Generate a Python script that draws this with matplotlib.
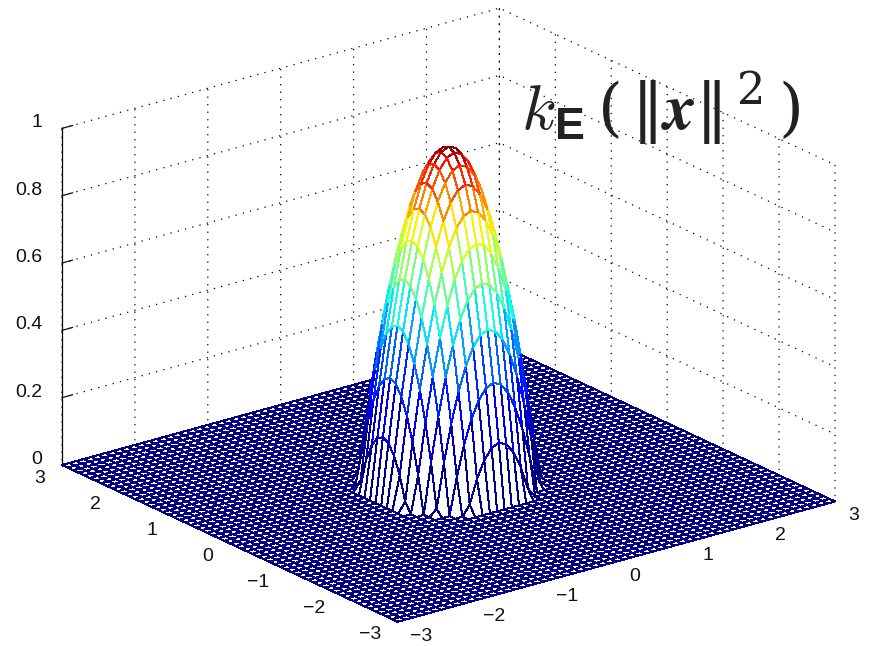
import numpy as np
import matplotlib
matplotlib.use('Agg')
import matplotlib.pyplot as plt
from mpl_toolkits.mplot3d import proj3d

# heights read from the dome, by grid offset from the centre (0.1 steps, one quadrant)
dome_quadrant = [
    [1.00, .99, .96, .91, .84, .75, .64, .51, .36, .19, 0],
    [ .99, .98, .95, .90, .83, .74, .63, .50, .35, .18, 0],
    [ .96, .95, .92, .87, .80, .71, .60, .47, .32, .15, 0],
    [ .91, .90, .87, .82, .75, .66, .55, .42, .27, .10, 0],
    [ .84, .83, .80, .75, .68, .59, .48, .35, .20, .03, 0],
    [ .75, .74, .71, .66, .59, .50, .39, .26, .11, 0, 0],
    [ .64, .63, .60, .55, .48, .39, .28, .15, 0, 0, 0],
    [ .51, .50, .47, .42, .35, .26, .15, .02, 0, 0, 0],
    [ .36, .35, .32, .27, .20, .11, 0, 0, 0, 0, 0],
    [ .19, .18, .15, .10, .03, 0, 0, 0, 0, 0, 0],
    [0, 0, 0, 0, 0, 0, 0, 0, 0, 0, 0],
]
grid_axis = np.arange(-30, 31) / 10
xy_ticks = [-3, -2, -1, 0, 1, 2, 3]
z_ticks = [0, 0.2, 0.4, 0.6, 0.8, 1]
z_ticklabels = ['0', '0.2', '0.4', '0.6', '0.8', '1']
title = r'$k_{\mathbf{E}}\,(\,\|\boldsymbol{x}\|^{\,2}\,)$'

plt.rcParams['font.family'] = ['Liberation Sans', 'DejaVu Sans']
plt.rcParams['mathtext.fontset'] = 'custom'
plt.rcParams['mathtext.rm'] = 'DejaVu Serif'
plt.rcParams['mathtext.it'] = 'cmmi10'
plt.rcParams['mathtext.bf'] = 'Liberation Sans:bold'
plt.rcParams['mathtext.bfit'] = 'STIXGeneral:italic:bold'
plt.rcParams['mathtext.fallback'] = 'cm'

Q = np.array(dome_quadrant)
Z = np.zeros((61, 61))
off = np.abs(np.arange(-30, 31))
for i, a in enumerate(off):
    for j, b in enumerate(off):
        if a <= 10 and b <= 10:
            Z[i, j] = Q[a, b]
X, Y = np.meshgrid(grid_axis, grid_axis)

W, H = 869, 646
fig = plt.figure(figsize=(W / 100, H / 100), dpi=100, facecolor='white')
ax = fig.add_axes([0, 0, 1, 1], projection='3d', facecolor='white')
ax.set_proj_type('ortho')
ax.view_init(elev=21, azim=-127.5)
ax.set_box_aspect((1, 1, 0.654), zoom=1.0)

surf = ax.plot_surface(X, Y, Z, rstride=1, cstride=1, color='white', shade=False,
                       linewidth=0.72, antialiased=False)
cm = plt.get_cmap('jet', 64)
cell = np.min([Z[:-1, :-1], Z[1:, :-1], Z[:-1, 1:], Z[1:, 1:]], axis=0)
surf.set_facecolor('white')
surf.set_edgecolor(cm(cell.ravel() ** 1.4))

ax.set_xlim(-3, 3); ax.set_ylim(-3, 3); ax.set_zlim(0, 1)
ax.set_xticks(xy_ticks); ax.set_yticks(xy_ticks)
ax.set_zticks(z_ticks); ax.set_zticklabels(z_ticklabels)

for axis in (ax.xaxis, ax.yaxis, ax.zaxis):
    axis.set_pane_color((1, 1, 1, 1))
    axis.pane.set_edgecolor('none')
    axis.line.set_color('black')
    axis.line.set_linewidth(0.9)
    axis._axinfo['grid'].update(color='black', linewidth=0.9, linestyle=(0, (1, 5)))
    axis._axinfo['tick'].update(inward_factor=0.0, outward_factor=0.3)
    axis._axinfo['tick']['linewidth'] = {True: 0.9, False: 0.9}
ax.zaxis.set_ticks_position('upper')
ax.tick_params(axis='both', labelsize=14, colors='#111111')
ax.tick_params(axis='x', pad=4)
ax.tick_params(axis='y', pad=4)
ax.tick_params(axis='z', pad=0)
for lab in ax.get_xticklabels():
    lab.set_ha('left'); lab.set_va('baseline')
for lab in ax.get_yticklabels():
    lab.set_ha('right'); lab.set_va('baseline')
for lab in ax.get_zticklabels():
    lab.set_ha('right'); lab.set_va('baseline')

# fit the box onto the reference corners
def px(x, y, z):
    fig.canvas.draw()
    u, v, _ = proj3d.proj_transform(x, y, z, ax.get_proj())
    return ax.transData.transform((u, v))

for _ in range(2):
    p1, p2 = px(-3, 3, 0), px(3, -3, 0)
    s = 773 / (p2[0] - p1[0])
    pos = ax.get_position(original=True)
    ax.set_position([pos.x0, pos.y0, pos.width * s, pos.height * s])
    p1 = px(-3, 3, 0)
    pos = ax.get_position(original=True)
    ax.set_position([pos.x0 + (62 - p1[0]) / W, pos.y0 + ((H - 465) - p1[1]) / H, pos.width, pos.height])

fig.text(521 / W, 1 - 130 / H, title, fontsize=46, color='#222222', ha='left', va='baseline')
fig.savefig('out.png', dpi=100)
